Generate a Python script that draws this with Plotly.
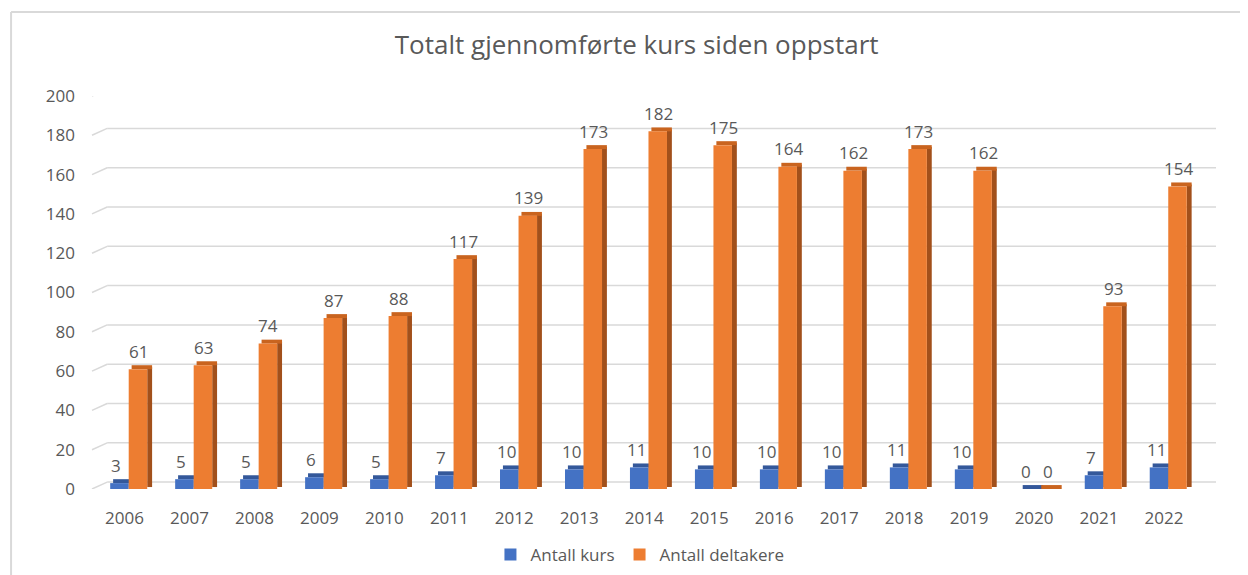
import plotly.graph_objects as go

years = [str(y) for y in range(2006, 2023)]
antall_kurs = [3, 5, 5, 6, 5, 7, 10, 10, 11, 10, 10, 10, 11, 10, 0, 7, 11]
antall_deltakere = [61, 63, 74, 87, 88, 117, 139, 173, 182, 175, 164, 162, 173, 162, 0, 93, 154]
y_ticks = [0, 20, 40, 60, 80, 100, 120, 140, 160, 180, 200]

DEPTH = 2        # pseudo-3D depth in value units (style)
WALL = 3.5       # back-wall offset of gridlines in value units (style)
WALL_X = 0.0135  # back-wall horizontal offset (paper fraction, style)
FONT = "Open Sans"
GREY = "#595959"
GRID = "#d9d9d9"

series = [
    # name, values, front color, top color, side color, front offset, label xshift
    ("Antall kurs", antall_kurs, "#4472c4", "#34589a", "#2b4c86", -0.22, -8),
    ("Antall deltakere", antall_deltakere, "#ed7d31", "#c9641f", "#a2501b", 0.065, 14),
]
W = 0.285

fig = go.Figure()
for name, vals, cf, ct, cs, off, xs in series:
    n = len(vals)
    # side face
    fig.add_trace(go.Bar(
        x=years, y=vals, base=[DEPTH / 2] * n, offset=off + W, width=0.075,
        marker=dict(color=cs, line=dict(width=0)), showlegend=False, hoverinfo="skip"))
    # top face
    fig.add_trace(go.Bar(
        x=years, y=[DEPTH] * n, base=vals, offset=off + 0.045, width=W + 0.03,
        marker=dict(color=ct, line=dict(width=0)), showlegend=False, hoverinfo="skip"))
    # front face
    fig.add_trace(go.Bar(
        x=years, y=vals, offset=off, width=W, name=name,
        marker=dict(color=cf, line=dict(width=0)), hoverinfo="skip"))
    for i, v in enumerate(vals):
        fig.add_annotation(
            x=i, y=v, xref="x", yref="y", text=str(v), showarrow=False,
            xshift=xs, yshift=18, yanchor="middle", xanchor="center",
            font=dict(family=FONT, size=17, color=GREY))

shapes = []
for t in y_ticks:
    # back-wall gridline
    shapes.append(dict(type="line", xref="paper", yref="y", x0=WALL_X, x1=1,
                       y0=t + WALL, y1=t + WALL, layer="below",
                       line=dict(color=GRID, width=1.5)))
    # floor/side diagonal
    shapes.append(dict(type="line", xref="paper", yref="y", x0=0, x1=WALL_X,
                       y0=t, y1=t + WALL, layer="below",
                       line=dict(color=GRID, width=1.5)))
# chart border
shapes.append(dict(type="line", xref="paper", yref="paper", x0=-0.072, x1=-0.072,
                   y0=1.2137, y1=-0.3, line=dict(color=GRID, width=2)))
shapes.append(dict(type="line", xref="paper", yref="paper", x0=-0.072, x1=1.2,
                   y0=1.2137, y1=1.2137, line=dict(color=GRID, width=2)))

fig.update_layout(
    width=1240, height=567,
    barmode="overlay",
    paper_bgcolor="white", plot_bgcolor="white",
    margin=dict(l=84, r=32, t=88, b=86, autoexpand=False),
    font=dict(family=FONT, color=GREY),
    title=dict(text="Totalt gjennomførte kurs siden oppstart", x=0.507, xanchor="center",
               yref="container", y=0.9347, yanchor="middle",
               font=dict(family=FONT, size=26, color=GREY)),
    legend=dict(orientation="h", x=0.4875, xanchor="center", y=-0.168, yanchor="middle",
                font=dict(family=FONT, size=17, color=GREY), traceorder="normal",
                itemwidth=30),
    xaxis=dict(type="category", range=[-0.5, 16.8], showgrid=False, showline=False,
               zeroline=False, ticks="", tickfont=dict(family=FONT, size=17, color=GREY),
               ticklabelstandoff=17),
    yaxis=dict(range=[0, 200], tickvals=y_ticks, showgrid=False, zeroline=False,
               showline=False, ticks="", tickfont=dict(family=FONT, size=17, color=GREY),
               ticklabelstandoff=16),
    shapes=shapes,
)

fig.write_html("out.html")
